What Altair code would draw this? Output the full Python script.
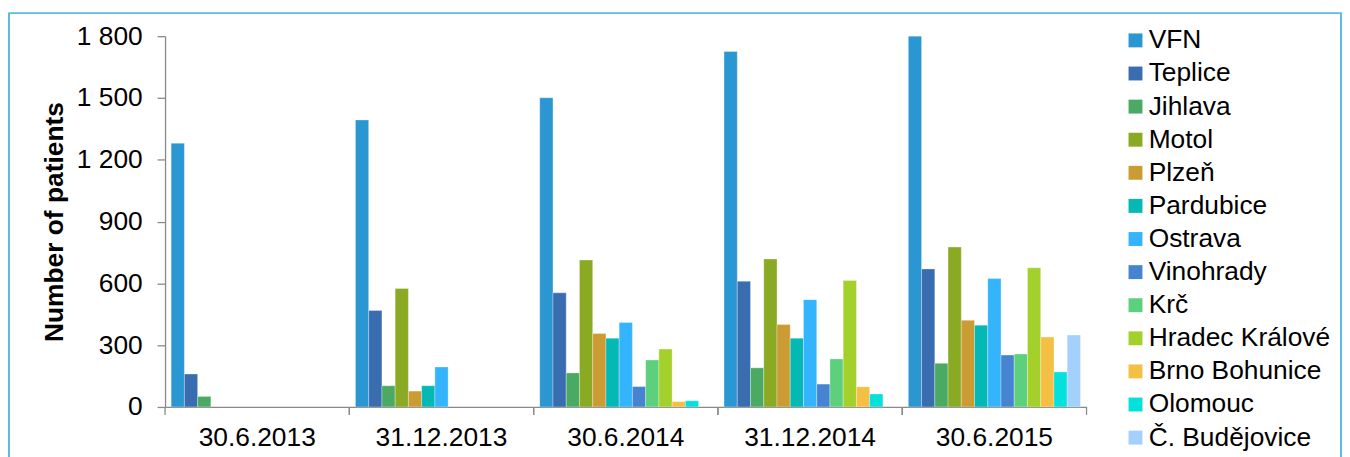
import altair as alt
import pandas as pd

dates = ["30.6.2013", "31.12.2013", "30.6.2014", "31.12.2014", "30.6.2015"]
hospitals = ["VFN", "Teplice", "Jihlava", "Motol", "Plzeň", "Pardubice", "Ostrava",
             "Vinohrady", "Krč", "Hradec Králové", "Brno Bohunice", "Olomouc", "Č. Budějovice"]
colors = ["#2A96D2", "#3A6DAF", "#4AAA64", "#8AAA24", "#CC9C34", "#04B8B4", "#34B4FC",
          "#4684D2", "#5CD07C", "#A4D02C", "#F4C044", "#04E0DC", "#A4D0FC"]

vfn = [1280, 1393, 1501, 1726, 1800]
teplice = [160, 468, 554, 610, 670]
jihlava = [51, 103, 165, 190, 212]
motol = [None, 575, 713, 718, 776]
plzen = [None, 77, 357, 400, 421]
pardubice = [None, 103, 334, 334, 397]
ostrava = [None, 194, 410, 521, 623]
vinohrady = [None, None, 99, 111, 252]
krc = [None, None, 228, 233, 257]
hradec = [None, None, 281, 614, 676]
brno = [None, None, 26, 98, 339]
olomouc = [None, None, 30, 63, 170]
budejovice = [None, None, None, None, 349]

series = [vfn, teplice, jihlava, motol, plzen, pardubice, ostrava,
          vinohrady, krc, hradec, brno, olomouc, budejovice]

y_ticks = [0, 300, 600, 900, 1200, 1500, 1800]

rows = []
for h, vals in zip(hospitals, series):
    for d, v in zip(dates, vals):
        if v is not None:
            rows.append({"Date": d, "Hospital": h, "Patients": v})
df = pd.DataFrame(rows)
cats = pd.DataFrame({"Date": dates})

FONT = "Liberation Sans"
FS = 26.5
W, H = 927, 373

x_scale = alt.Scale(domain=dates, paddingInner=0, paddingOuter=0)

bars = alt.Chart(df).mark_bar(stroke="white", strokeWidth=0.6, strokeOpacity=0.5).encode(
    x=alt.X("Date:N", scale=x_scale, sort=dates,
            axis=alt.Axis(title=None, labelAngle=0, ticks=False, labelFontSize=FS,
                          labelFont=FONT, labelColor="#000000", labelPadding=18,
                          domainColor="#898989", domainWidth=1.3)),
    xOffset=alt.XOffset("Hospital:N", sort=hospitals,
                        scale=alt.Scale(domain=hospitals, paddingInner=0, paddingOuter=0.46)),
    y=alt.Y("Patients:Q", scale=alt.Scale(domain=[0, 1800], nice=False),
            axis=alt.Axis(title="Number of patients", values=y_ticks, grid=False,
                          labelExpr="replace(format(datum.value, ','), ',', ' ')",
                          labelFontSize=FS, labelFont=FONT, labelColor="#000000",
                          tickSize=8, tickColor="#898989", tickWidth=1.3,
                          labelPadding=15, domainColor="#898989", domainWidth=1.3,
                          titleFont=FONT, titleFontSize=FS, titleFontWeight="bold",
                          titleColor="#000000", titlePadding=8)),
    color=alt.Color("Hospital:N", sort=hospitals,
                    scale=alt.Scale(domain=hospitals, range=colors),
                    legend=alt.Legend(title=None, orient="none", legendX=963, legendY=-9,
                                      symbolType="square", symbolSize=196, symbolStrokeWidth=0,
                                      labelFont=FONT, labelFontSize=FS, labelColor="#000000",
                                      labelOffset=0, rowPadding=6.3, padding=0,
                                      labelLimit=400)),
)

tick_left = alt.Chart(cats).mark_rule(color="#898989", strokeWidth=1.3).encode(
    x=alt.X("Date:N", scale=x_scale, sort=dates, bandPosition=0),
    y=alt.value(H), y2=alt.value(H + 8),
)
tick_right = alt.Chart(cats).mark_rule(color="#898989", strokeWidth=1.3).encode(
    x=alt.X("Date:N", scale=x_scale, sort=dates, bandPosition=1),
    y=alt.value(H), y2=alt.value(H + 8),
)

frame = alt.Chart(cats).mark_rect(fill=None, stroke="#5DBBE3", strokeWidth=1.2).encode(
    x=alt.value(-157), x2=alt.value(1183), y=alt.value(-23), y2=alt.value(480),
)

chart = alt.layer(frame, bars, tick_left, tick_right).properties(
    width=W, height=H,
    autosize=alt.AutoSizeParams(type="none"),
    padding={"left": 158, "top": 27, "right": 257, "bottom": 49},
).configure_view(stroke=None)

chart.save("out.html", embed_options={"renderer": "svg", "actions": False})
